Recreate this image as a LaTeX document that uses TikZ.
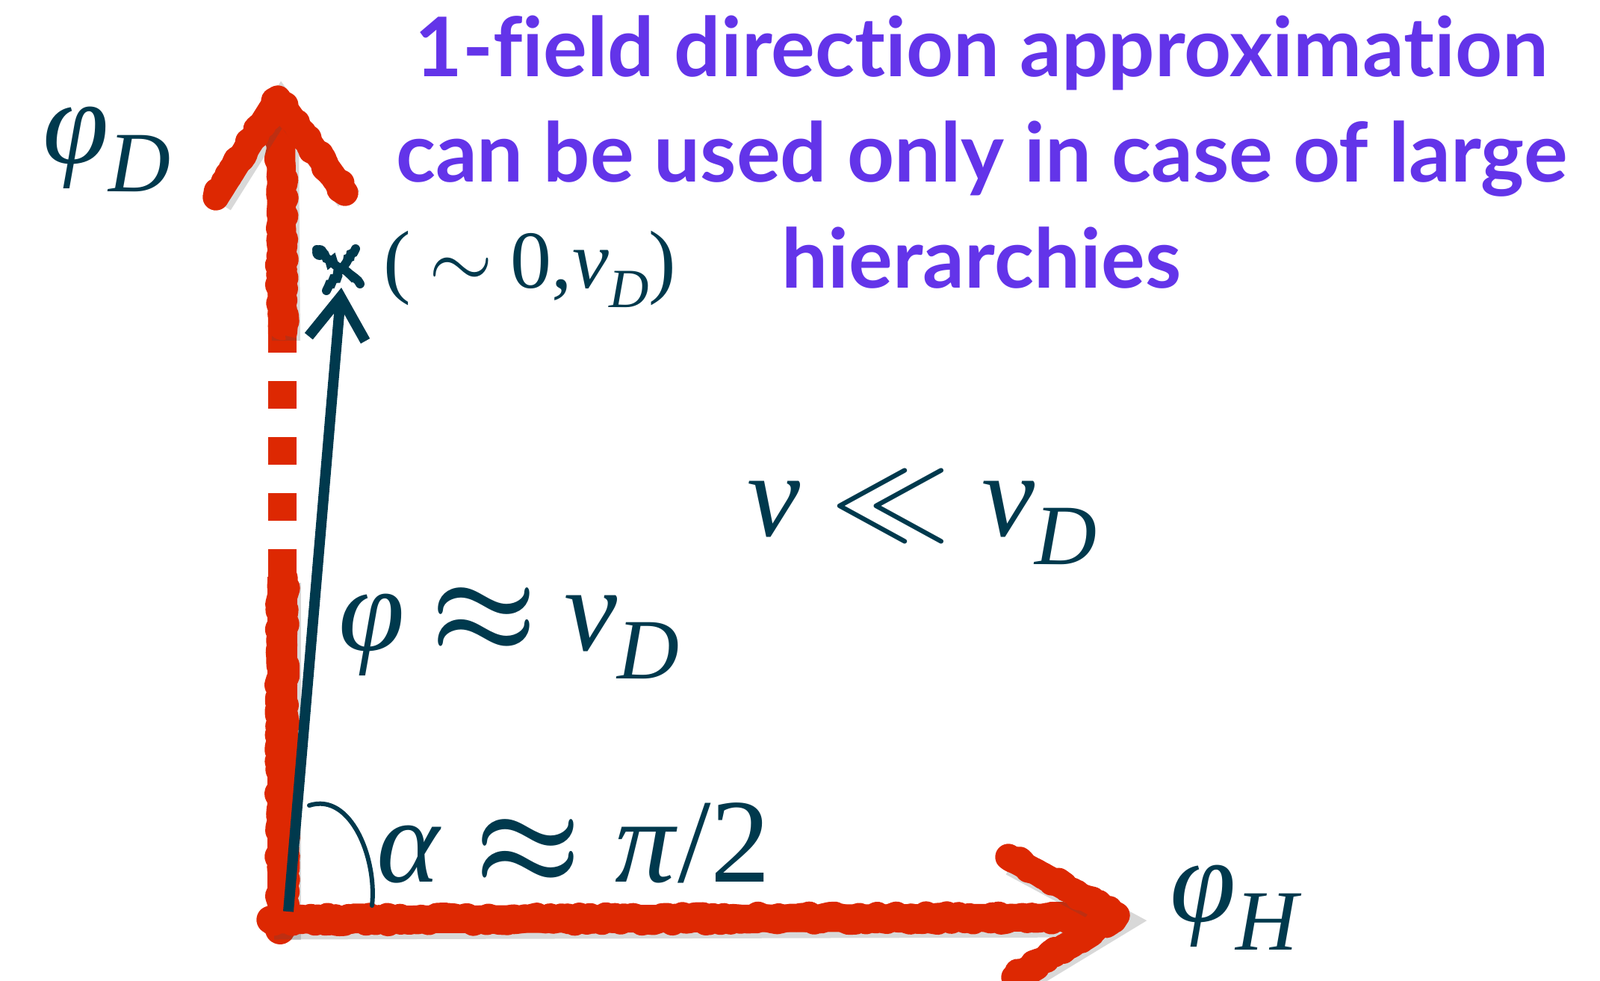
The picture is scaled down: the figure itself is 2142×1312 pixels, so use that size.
\RequirePackage{fix-cm}
\documentclass[tikz,border=0pt]{standalone}
\usepackage{fontspec}
\usetikzlibrary{arrows.meta,decorations.pathmorphing}
\setmainfont{Liberation Serif}
\newfontfamily\headfont{Lato}[Ligatures=NoCommon]
\definecolor{chalk}{RGB}{221,40,2}
\definecolor{ink}{RGB}{0,57,77}
\definecolor{headpurple}{RGB}{99,52,233}
\newcommand\mfs[1]{\fontsize{#1}{#1}\selectfont}
\newcommand\lowsub[2]{\raisebox{-0.24em}{\mfs{#1}\itshape #2}}
\newcommand\rel[2]{\hspace{#1}{\boldmath$#2$}\hspace{#1}}
\begin{document}
\begin{tikzpicture}[x=1pt,y=-1pt,
  chalk stroke/.style={draw=chalk, line width=#1, line cap=round, line join=round,
    preaction={draw=black!70, opacity=0.22, line width=#1, transform canvas={shift={(5pt,-8pt)}}},
    postaction={draw=chalk, line width=#1, decorate, decoration={random steps, segment length=5pt, amplitude=4pt}}},
  mathlabel/.style={text=ink, anchor=base west, inner sep=0pt, font=\mfs{160}},
  head/.style={text=headpurple, anchor=base, inner sep=0pt, font=\headfont\bfseries\mfs{110}},
  vec/.style={draw=ink, line width=14pt, -{Straight Barb[length=56pt,width=76pt]}}]
\useasboundingbox (0,0) rectangle (2142,1312);
\coordinate (Ytip) at (372,132);
\coordinate (Xtip) at (1495,1225);
\coordinate (O) at (386,1220);
\coordinate (P) at (457,385);
% vertical axis
\draw[chalk stroke=40pt, line cap=butt] (378,1250) -- (378,772);
\draw[draw=chalk, line width=38pt, dash pattern=on 37pt off 38pt] (378,772) -- (378,446);
\draw[chalk stroke=38pt, line cap=butt] (378,448) -- (376,165);
\draw[chalk stroke=35pt] (289,264) -- (Ytip) -- (462,258);
% horizontal axis
\draw[chalk stroke=37pt] (362,1231) -- (1470,1228);
\draw[chalk stroke=35pt] (1350,1147) -- (Xtip) -- (1358,1308);
% vector, angle, point
\draw[vec] (O) -- (P);
\draw[ink, line width=6pt, line cap=round] (414,1078) .. controls (470,1060) and (505,1150) .. (498,1212);
\draw[ink, line width=12pt, line cap=round, decorate, decoration={random steps, segment length=4pt, amplitude=2.5pt}] (424,334) -- (482,380) (476,333) -- (437,389);
\fill[ink] (428,338) circle (10pt);
% labels
\node[mathlabel] (phiD) at (57,218) {\textit{φ}\lowsub{115}{D}};
\node[mathlabel, font=\mfs{110}] (pt) at (513,385) {(\hspace{0.22em}$\sim$\hspace{0.22em}0,\textit{v}\lowsub{74}{D})};
\node[mathlabel] (vv) at (1000,717) {\textit{v}\hspace{0.26em}$\ll$\hspace{0.26em}\textit{v}\lowsub{115}{D}};
\node[mathlabel] (phiv) at (453,870) {\textit{φ}\rel{0.22em}{\approx}\textit{v}\lowsub{115}{D}};
\node[mathlabel] (alpha) at (504,1180) {\textit{α}\rel{0.28em}{\approx}\textit{π}/2};
\node[mathlabel] (phiH) at (1566,1233) {\textit{φ}\lowsub{115}{H}};
\node[head] (h1) at (1314,102) {1-field direction approximation};
\node[head] (h2) at (1314,243) {can be used only in case of large};
\node[head] (h3) at (1314,385) {hierarchies};
\end{tikzpicture}
\end{document}
